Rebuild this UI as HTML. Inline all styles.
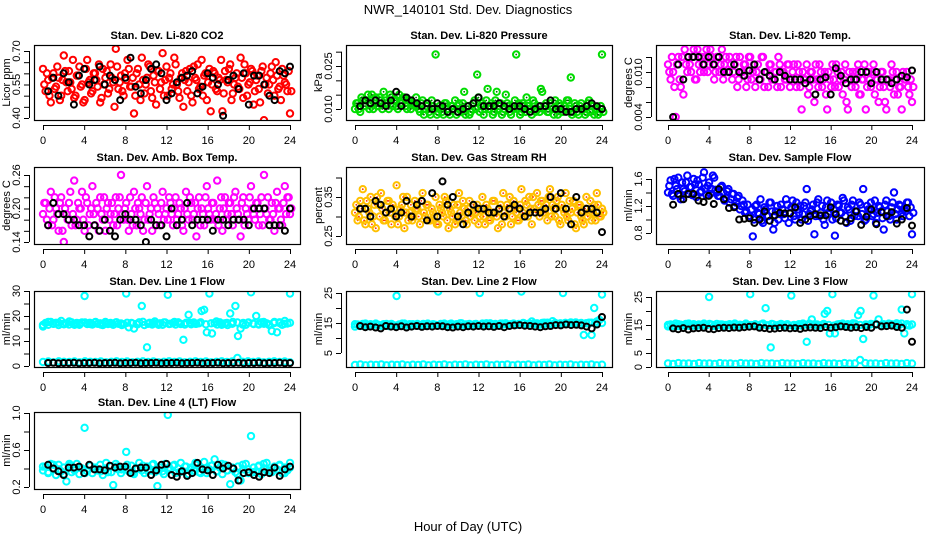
<!DOCTYPE html>
<html><head><meta charset="utf-8"><style>
body{margin:0;background:#fff;}
svg{display:block;font-family:"Liberation Sans",Arial,sans-serif;}
</style></head><body>
<svg id="chart" width="936" height="540" viewBox="0 0 936 540" xmlns="http://www.w3.org/2000/svg">
<text x="468" y="14" text-anchor="middle" font-size="13">NWR_140101  Std. Dev. Diagnostics</text>
<text x="468" y="531" text-anchor="middle" font-size="13">Hour of Day (UTC)</text>
</svg>
<script>
const xTicks = [0,4,8,12,16,20,24];
const co2Color = [0.62,0.52,0.57,0.47,0.60,0.54,0.58,0.50,0.68,0.56,0.61,0.53,0.49,0.59,0.63,0.55,0.48,0.66,0.57,0.52,0.60,0.54,0.47,0.62,0.58,0.51,0.64,0.56,0.71,0.53,0.59,0.50,0.57,0.62,0.54,0.42,0.60,0.55,0.67,0.51,0.58,0.63,0.49,0.56,0.61,0.53,0.69,0.57,0.50,0.60,0.55,0.64,0.52,0.58,0.45,0.61,0.56,0.50,0.63,0.57,0.53,0.66,0.59,0.48,0.62,0.55,0.60,0.52,0.57,0.43,0.61,0.56,0.64,0.51,0.58,0.54,0.67,0.49,0.60,0.55,0.62,0.46,0.57,0.53,0.61,0.39,0.58,0.55,0.63,0.50,0.59,0.54,0.62,0.56,0.52,0.42];
const co2Color2 = [0.55,0.60,0.50,0.58,0.53,0.63,0.48,0.57,0.61,0.52,0.56,0.66,0.50,0.59,0.54,0.47,0.62,0.56,0.51,0.60,0.57,0.64,0.49,0.55,0.61,0.53,0.58,0.45,0.63,0.56,0.52,0.60,0.66,0.54,0.58,0.50,0.62,0.48,0.57,0.55,0.64,0.52,0.59,0.46,0.61,0.56,0.50,0.63,0.58,0.53,0.67,0.55,0.49,0.60,0.57,0.52,0.62,0.47,0.58,0.64,0.54,0.50,0.60,0.56,0.43,0.61,0.53,0.58,0.66,0.51,0.57,0.62,0.48,0.55,0.60,0.53,0.58,0.64,0.50,0.56,0.61,0.52,0.59,0.47,0.63,0.55,0.51,0.60,0.57,0.65,0.53,0.48,0.59,0.55,0.61,0.52];
const co2Black = [0.52,0.58,0.50,0.60,0.56,0.46,0.59,0.62,0.55,0.57,0.63,0.55,0.59,0.57,0.48,0.58,0.67,0.54,0.51,0.57,0.62,0.64,0.60,0.48,0.51,0.56,0.58,0.59,0.61,0.51,0.54,0.60,0.58,0.55,0.41,0.57,0.59,0.53,0.60,0.46,0.59,0.59,0.55,0.50,0.48,0.61,0.60,0.63];
const presColor = [0.010,0.012,0.009,0.013,0.011,0.015,0.012,0.010,0.014,0.011,0.013,0.016,0.012,0.010,0.014,0.013,0.011,0.015,0.012,0.014,0.010,0.013,0.012,0.011,0.011,0.009,0.013,0.010,0.012,0.008,0.011,0.029,0.009,0.010,0.008,0.012,0.009,0.011,0.010,0.008,0.012,0.009,0.016,0.011,0.008,0.010,0.013,0.022,0.009,0.012,0.010,0.017,0.011,0.008,0.013,0.010,0.012,0.009,0.015,0.011,0.008,0.010,0.029,0.012,0.009,0.011,0.014,0.010,0.008,0.012,0.010,0.009,0.016,0.011,0.009,0.012,0.010,0.013,0.008,0.011,0.009,0.010,0.013,0.021,0.009,0.011,0.008,0.012,0.010,0.009,0.013,0.011,0.008,0.010,0.009,0.029];
const presColor2 = [0.012,0.010,0.014,0.011,0.013,0.010,0.015,0.012,0.011,0.014,0.010,0.013,0.012,0.015,0.011,0.013,0.010,0.012,0.014,0.011,0.013,0.010,0.012,0.014,0.010,0.012,0.008,0.011,0.009,0.013,0.010,0.008,0.011,0.009,0.012,0.010,0.008,0.011,0.013,0.009,0.010,0.012,0.008,0.011,0.009,0.012,0.010,0.014,0.011,0.008,0.013,0.010,0.012,0.009,0.016,0.011,0.008,0.010,0.012,0.009,0.011,0.013,0.010,0.008,0.012,0.009,0.011,0.010,0.013,0.009,0.011,0.017,0.010,0.012,0.009,0.011,0.008,0.010,0.012,0.009,0.011,0.013,0.010,0.008,0.012,0.009,0.011,0.010,0.008,0.012,0.009,0.011,0.010,0.008,0.011,0.009];
const presBlack = [0.011,0.013,0.012,0.013,0.012,0.011,0.013,0.016,0.011,0.014,0.013,0.012,0.011,0.012,0.010,0.012,0.011,0.009,0.010,0.009,0.010,0.011,0.012,0.014,0.011,0.011,0.011,0.012,0.011,0.010,0.011,0.011,0.010,0.009,0.010,0.011,0.011,0.013,0.010,0.010,0.009,0.009,0.010,0.010,0.011,0.012,0.011,0.010];
const tempColor = [0.011,0.009,0.010,0.004,0.012,0.008,0.007,0.011,0.012,0.010,0.013,0.009,0.011,0.012,0.010,0.013,0.011,0.012,0.009,0.012,0.010,0.013,0.011,0.010,0.012,0.009,0.011,0.008,0.012,0.010,0.011,0.009,0.012,0.010,0.008,0.011,0.009,0.012,0.010,0.008,0.011,0.009,0.010,0.012,0.008,0.010,0.009,0.011,0.009,0.011,0.008,0.010,0.005,0.009,0.011,0.008,0.010,0.006,0.009,0.011,0.008,0.010,0.005,0.009,0.011,0.008,0.010,0.009,0.007,0.011,0.005,0.009,0.010,0.008,0.011,0.007,0.009,0.005,0.010,0.008,0.011,0.009,0.006,0.010,0.008,0.005,0.009,0.011,0.007,0.010,0.008,0.005,0.009,0.010,0.007,0.006];
const tempColor2 = [0.010,0.012,0.008,0.011,0.009,0.012,0.013,0.010,0.011,0.012,0.009,0.013,0.010,0.011,0.012,0.010,0.013,0.011,0.010,0.012,0.011,0.009,0.012,0.010,0.011,0.010,0.012,0.009,0.010,0.011,0.008,0.012,0.009,0.011,0.010,0.009,0.012,0.008,0.010,0.011,0.009,0.010,0.008,0.011,0.010,0.009,0.011,0.008,0.010,0.009,0.011,0.008,0.010,0.009,0.007,0.010,0.009,0.011,0.008,0.010,0.009,0.007,0.010,0.008,0.009,0.011,0.008,0.010,0.009,0.006,0.010,0.008,0.009,0.010,0.007,0.009,0.011,0.008,0.009,0.010,0.007,0.009,0.008,0.010,0.006,0.009,0.008,0.010,0.009,0.007,0.008,0.010,0.009,0.008,0.009,0.008];
const tempBlack = [0.0040,0.011,0.009,0.012,0.012,0.012,0.011,0.012,0.011,0.012,0.010,0.010,0.011,0.010,0.0095,0.0102,0.011,0.009,0.010,0.0095,0.009,0.010,0.0095,0.009,0.009,0.009,0.0085,0.009,0.007,0.009,0.0093,0.007,0.0105,0.0095,0.0085,0.009,0.009,0.010,0.010,0.0085,0.010,0.009,0.009,0.0085,0.009,0.0095,0.0093,0.0102];
const ambColor = [0.19,0.21,0.17,0.23,0.18,0.20,0.16,0.22,0.14,0.19,0.21,0.17,0.25,0.18,0.20,0.23,0.16,0.21,0.19,0.24,0.17,0.20,0.22,0.18,0.16,0.21,0.19,0.17,0.22,0.20,0.26,0.18,0.21,0.16,0.19,0.23,0.17,0.20,0.22,0.18,0.24,0.19,0.16,0.21,0.20,0.17,0.23,0.19,0.18,0.21,0.17,0.22,0.19,0.20,0.16,0.23,0.18,0.21,0.19,0.15,0.22,0.20,0.17,0.24,0.19,0.21,0.18,0.25,0.20,0.16,0.22,0.19,0.21,0.17,0.23,0.19,0.15,0.22,0.20,0.18,0.24,0.19,0.21,0.17,0.22,0.26,0.19,0.18,0.21,0.16,0.23,0.20,0.17,0.24,0.22,0.19];
const ambColor2 = [0.21,0.18,0.20,0.17,0.22,0.19,0.21,0.16,0.20,0.18,0.23,0.19,0.17,0.21,0.20,0.18,0.22,0.17,0.20,0.19,0.21,0.16,0.19,0.22,0.20,0.18,0.21,0.19,0.17,0.22,0.19,0.20,0.18,0.22,0.17,0.20,0.21,0.19,0.16,0.21,0.18,0.20,0.22,0.17,0.19,0.21,0.18,0.20,0.22,0.19,0.20,0.18,0.21,0.17,0.20,0.19,0.22,0.18,0.21,0.20,0.17,0.19,0.22,0.20,0.18,0.21,0.19,0.17,0.22,0.20,0.18,0.21,0.19,0.22,0.20,0.18,0.21,0.17,0.19,0.22,0.20,0.18,0.21,0.19,0.17,0.20,0.22,0.18,0.19,0.21,0.20,0.18,0.21,0.19,0.22,0.20];
const ambBlack = [0.17,0.21,0.19,0.19,0.18,0.18,0.17,0.17,0.15,0.17,0.16,0.18,0.16,0.15,0.18,0.19,0.18,0.18,0.17,0.14,0.18,0.17,0.17,0.15,0.20,0.17,0.18,0.21,0.17,0.18,0.18,0.18,0.16,0.18,0.18,0.17,0.18,0.18,0.18,0.17,0.20,0.20,0.20,0.17,0.17,0.17,0.16,0.20];
const rhColor = [0.31,0.29,0.34,0.37,0.28,0.32,0.35,0.30,0.27,0.33,0.36,0.29,0.31,0.34,0.28,0.32,0.38,0.30,0.33,0.27,0.35,0.31,0.29,0.34,0.32,0.28,0.36,0.30,0.33,0.29,0.31,0.35,0.28,0.32,0.30,0.34,0.27,0.31,0.33,0.29,0.36,0.30,0.32,0.28,0.34,0.31,0.29,0.33,0.30,0.35,0.28,0.32,0.29,0.34,0.31,0.27,0.33,0.36,0.30,0.32,0.28,0.34,0.31,0.29,0.37,0.30,0.33,0.35,0.28,0.32,0.36,0.30,0.34,0.31,0.29,0.37,0.33,0.30,0.35,0.28,0.32,0.36,0.29,0.31,0.34,0.27,0.33,0.30,0.28,0.35,0.31,0.29,0.33,0.36,0.30,0.32];
const rhColor2 = [0.33,0.30,0.32,0.29,0.34,0.31,0.28,0.33,0.35,0.30,0.32,0.29,0.34,0.31,0.33,0.30,0.28,0.32,0.35,0.31,0.29,0.33,0.30,0.32,0.30,0.34,0.31,0.33,0.29,0.32,0.30,0.28,0.33,0.31,0.35,0.29,0.32,0.30,0.28,0.33,0.31,0.34,0.29,0.32,0.30,0.33,0.31,0.28,0.32,0.30,0.33,0.29,0.31,0.34,0.30,0.32,0.28,0.31,0.33,0.35,0.30,0.32,0.29,0.33,0.31,0.34,0.30,0.32,0.35,0.31,0.33,0.34,0.31,0.33,0.35,0.30,0.32,0.34,0.29,0.33,0.31,0.30,0.34,0.32,0.28,0.31,0.33,0.29,0.32,0.30,0.34,0.31,0.29,0.33,0.30,0.31];
const rhBlack = [0.32,0.32,0.30,0.34,0.33,0.31,0.32,0.30,0.31,0.34,0.30,0.33,0.34,0.29,0.36,0.30,0.39,0.33,0.35,0.30,0.28,0.31,0.33,0.32,0.32,0.31,0.31,0.32,0.30,0.32,0.33,0.32,0.30,0.31,0.31,0.31,0.32,0.35,0.32,0.36,0.32,0.28,0.35,0.31,0.32,0.32,0.31,0.26];
const flowColor = [1.40,1.58,1.35,1.50,1.62,1.30,1.45,1.55,1.38,1.48,1.60,1.33,1.52,1.42,1.70,1.36,1.55,1.45,1.62,1.40,1.35,1.50,1.28,1.42,1.25,1.38,1.20,1.32,1.15,1.28,1.10,1.22,1.05,0.75,1.20,1.10,1.30,0.95,1.15,1.05,1.25,0.85,1.12,1.00,1.22,1.08,1.30,0.95,1.18,1.05,1.25,1.10,1.00,1.20,1.45,1.08,1.15,0.78,1.25,1.05,1.20,0.92,1.28,1.12,1.00,0.76,1.22,1.10,1.32,1.05,1.18,0.98,1.28,1.12,1.05,1.22,1.45,1.00,1.15,1.25,1.08,0.95,1.20,1.12,0.85,1.28,1.05,1.18,1.40,1.00,1.22,1.10,1.15,1.25,1.05,0.78];
const flowColor2 = [1.50,1.38,1.60,1.45,1.35,1.55,1.42,1.65,1.48,1.36,1.52,1.58,1.40,1.62,1.46,1.50,1.38,1.65,1.44,1.35,1.48,1.40,1.32,1.45,1.30,1.38,1.25,1.35,1.20,1.22,1.12,1.05,1.15,1.00,1.22,1.08,0.98,1.18,1.05,1.25,1.12,0.95,1.20,1.08,1.15,1.02,1.22,1.10,1.28,1.00,1.15,1.20,1.08,1.25,0.98,1.12,1.22,1.05,1.30,1.10,1.00,1.18,1.08,1.25,1.15,1.02,1.20,1.10,1.28,0.95,1.15,1.22,1.05,1.12,1.25,1.08,0.98,1.20,1.15,1.05,1.28,1.10,1.18,1.02,1.22,1.12,1.00,1.25,1.08,1.15,1.20,1.05,1.12,1.25,1.18,1.10];
const flowBlack = [1.22,1.38,1.30,1.38,1.38,1.28,1.26,1.35,1.23,1.45,1.30,1.17,1.18,1.00,1.01,1.02,0.95,1.00,1.12,0.98,1.06,1.10,1.09,1.09,1.18,0.95,1.00,1.05,1.08,1.06,1.06,1.18,1.08,0.98,0.96,1.02,1.12,0.92,1.04,1.15,0.93,1.11,1.05,1.11,0.94,1.00,1.17,0.91];
const line1High = [15.8,17.2,16.5,17.6,16.9,17.3,16.4,18.0,16.8,17.1,16.6,17.5,16.9,17.2,16.5,17.4,28.0,16.8,17.3,16.6,17.5,16.9,17.1,16.4,17.6,16.8,17.2,16.5,17.4,16.9,17.0,16.7,29.0,15.5,17.2,15.0,16.8,17.5,24.0,16.4,7.5,17.3,16.6,17.8,16.9,17.1,16.5,17.4,28.5,16.9,17.2,16.6,17.5,16.8,10.5,17.3,20.5,16.7,17.4,16.9,17.1,22.0,22.5,13.5,29.0,13.0,17.2,16.6,17.5,16.9,17.1,16.4,21.0,17.6,24.0,12.0,15.0,17.2,16.5,17.4,29.5,16.8,20.0,16.6,17.5,16.9,17.1,16.4,14.0,17.6,13.5,17.2,16.5,18.0,17.0,29.0];
const line1Band = [16.4,17.6,16.9,17.3,16.7,17.8,16.5,17.1,17.4,16.8,17.6,16.6,17.2,16.9,17.5,16.4,17.3,17.0,16.7,17.7,16.9,17.2,16.5,17.4,16.8,17.6,17.0,16.6,17.3,16.9,17.5,16.7,17.1,17.8,16.5,17.2,16.9,17.4,16.6,17.3,17.0,16.8,17.6,16.7,17.2,17.5,16.9,17.3];
const line1Low = [1.6,1.8,1.5,1.9,1.7,1.6,1.8,1.5,1.9,1.7,1.6,1.8,1.5,1.7,1.9,1.6,1.8,1.5,1.7,1.9,1.6,1.8,1.5,1.7,1.9,1.6,1.8,1.5,1.7,1.9,1.6,1.8,1.5,1.7,1.9,1.6,1.8,3.2,1.7,1.9,1.6,1.8,1.5,1.7,1.9,1.6,1.8,1.5];
const line1Black = [1.2,1.3,1.1,1.2,1.2,1.3,1.1,1.2,1.2,1.3,1.1,1.2,1.2,1.3,1.1,1.2,1.2,1.3,1.1,1.2,1.2,1.3,1.1,1.2,1.2,1.3,1.1,1.2,1.2,1.3,1.1,1.2,1.2,1.3,1.1,1.2,1.2,1.3,1.1,1.2,1.2,1.3,1.1,1.2,1.2,1.3,1.1,1.2];
const line2High = [13.8,14.5,14.1,14.7,14.3,14.0,14.6,14.2,14.8,14.4,14.1,14.6,14.3,14.0,14.7,14.2,24.0,14.5,14.1,14.8,14.3,14.6,14.0,14.4,14.7,14.2,14.5,14.1,14.8,14.3,14.6,14.4,25.5,14.7,14.2,14.5,14.1,14.8,14.4,14.6,14.2,14.9,14.3,14.5,14.7,14.1,14.6,14.4,25.0,14.8,14.3,14.6,14.9,14.4,14.7,14.2,14.8,14.5,14.9,14.3,14.6,14.8,14.4,14.7,25.5,14.9,14.5,14.8,15.5,14.6,14.9,14.4,15.0,14.7,15.1,14.5,15.6,15.0,14.6,14.9,25.0,15.0,14.7,15.2,14.8,15.1,14.6,15.0,11.0,14.9,15.1,11.0,20.0,15.5,16.0,24.5];
const line2Band = [14.6,14.0,14.8,14.3,14.5,14.1,14.7,14.4,14.2,14.8,14.3,14.6,14.1,14.7,14.4,14.5,14.2,14.8,14.6,14.3,14.9,14.5,14.2,14.7,14.4,14.9,14.6,14.3,14.8,14.5,14.7,14.4,15.0,14.6,14.8,14.5,15.1,14.7,14.9,14.6,15.0,14.8,15.2,14.7,14.9,15.1,14.8,15.0];
const line2Low = [1.0,1.2,0.9,1.1,1.0,1.2,0.9,1.1,1.0,1.2,0.9,1.1,1.0,1.2,0.9,1.1,1.0,1.2,0.9,1.1,1.0,1.2,0.9,1.1,1.0,1.2,0.9,1.1,1.0,1.2,0.9,1.1,1.0,1.2,0.9,1.1,1.0,1.2,0.9,1.1,1.0,1.2,0.9,1.1,1.0,1.2,0.9,1.1];
const line2Black = [14.0,13.6,13.8,13.5,13.2,14.0,13.8,13.6,13.9,13.5,13.8,14.0,13.7,13.9,13.8,14.0,13.9,13.6,13.5,13.8,13.6,13.9,13.8,14.0,13.8,13.9,13.7,14.0,13.6,14.0,14.2,14.3,14.1,14.0,13.8,13.6,13.9,14.0,14.3,14.2,14.5,14.3,14.4,14.2,13.8,13.2,14.5,17.0];
const line3High = [14.5,15.2,14.8,15.5,14.6,15.1,14.9,15.4,14.7,15.0,15.3,14.6,15.2,14.8,15.5,14.9,25.0,15.1,14.7,15.4,14.9,15.2,14.6,15.0,15.3,14.8,15.5,14.7,15.1,14.9,15.2,15.0,26.0,14.8,15.3,14.6,15.1,15.5,21.0,14.9,7.0,15.2,14.8,15.0,15.4,14.7,15.1,14.9,25.5,15.0,14.6,15.3,14.8,15.1,9.0,15.5,17.0,14.9,15.2,14.7,15.0,19.0,20.0,12.0,26.0,12.0,15.2,14.8,15.5,15.0,15.3,14.9,15.6,15.1,18.5,20.0,10.0,15.2,14.9,15.4,25.5,15.1,17.0,14.8,15.3,15.0,15.5,14.9,15.2,15.6,15.0,20.5,12.0,15.3,14.8,26.0];
const line3Band = [15.0,14.6,15.3,14.8,15.5,14.7,15.1,14.9,15.4,14.6,15.2,15.0,14.8,15.3,14.7,15.5,15.0,14.8,15.2,14.9,15.4,14.7,15.1,15.3,14.8,15.0,15.5,14.9,15.2,14.7,15.4,15.0,14.8,15.3,15.1,14.9,15.5,15.0,14.8,15.2,15.4,14.9,15.1,15.3,14.8,15.5,15.0,15.2];
const line3Low = [1.3,1.1,1.4,1.2,1.3,1.1,1.4,1.2,1.3,1.1,1.4,1.2,1.3,1.1,1.4,1.2,1.3,1.1,1.4,1.2,1.3,1.1,1.4,1.2,1.3,1.1,1.4,1.2,1.3,1.1,1.4,1.2,1.3,1.1,1.4,1.2,1.3,2.5,1.4,1.2,1.3,1.1,1.4,1.2,1.3,1.1,1.4,1.2];
const line3Black = [13.8,13.5,13.9,13.4,13.8,13.9,14.0,13.6,13.5,13.9,14.0,13.9,14.1,14.0,14.2,14.4,14.5,14.0,13.9,13.6,13.7,13.9,14.0,13.8,13.9,13.6,14.0,14.1,14.0,13.9,14.3,14.0,14.2,14.5,14.3,14.0,14.2,13.9,14.3,14.0,15.2,14.5,14.6,14.8,14.3,14.0,20.5,9.0];
const line4Color = [0.38,0.42,0.35,0.45,0.40,0.33,0.44,0.37,0.41,0.26,0.43,0.36,0.39,0.45,0.34,0.40,0.84,0.37,0.43,0.35,0.41,0.38,0.44,0.33,0.40,0.36,0.42,0.22,0.45,0.39,0.35,0.41,0.58,0.37,0.43,0.34,0.40,0.46,0.38,0.35,0.42,0.39,0.44,0.36,0.21,0.41,0.37,0.45,0.98,0.39,0.43,0.35,0.40,0.46,0.37,0.42,0.34,0.41,0.38,0.44,0.36,0.40,0.47,0.35,0.39,0.43,0.50,0.37,0.41,0.34,0.44,0.38,0.23,0.40,0.36,0.42,0.27,0.39,0.45,0.35,0.75,0.41,0.37,0.43,0.34,0.40,0.46,0.38,0.36,0.42,0.39,0.44,0.35,0.41,0.38,0.46];
const line4Band = [0.42,0.36,0.44,0.39,0.34,0.45,0.38,0.41,0.35,0.43,0.40,0.37,0.46,0.36,0.42,0.39,0.44,0.35,0.40,0.43,0.37,0.45,0.38,0.34,0.41,0.44,0.36,0.42,0.39,0.46,0.35,0.40,0.43,0.37,0.45,0.38,0.41,0.34,0.44,0.39,0.36,0.42,0.45,0.37,0.40,0.43,0.35,0.41];
const line4Black = [0.44,0.40,0.37,0.33,0.41,0.41,0.42,0.35,0.44,0.39,0.39,0.38,0.43,0.41,0.42,0.42,0.35,0.40,0.41,0.41,0.33,0.38,0.44,0.45,0.33,0.31,0.37,0.32,0.35,0.46,0.39,0.38,0.33,0.44,0.40,0.43,0.40,0.27,0.35,0.36,0.33,0.31,0.36,0.35,0.41,0.32,0.39,0.42];

const NS = "http://www.w3.org/2000/svg";
const svg = document.getElementById('chart');
function mk(tag, attrs, parent){const e=document.createElementNS(NS,tag);for(const k in attrs)e.setAttribute(k,attrs[k]);(parent||svg).appendChild(e);return e;}

const cols=[{l:34,r:300,x0:43,x24:290},{l:346,r:612,x0:355,x24:602},{l:656,r:924,x0:668,x24:912}];
const rows=[{t:45,b:120},{t:167,b:244},{t:291,b:367},{t:412,b:489}];

const panels=[
 {name:'co2',title:'Stan. Dev. Li-820 CO2',yl:'Licor ppm',c:0,r:0,v1:0.40,p1:118,v2:0.70,p2:51,ticks:[0.40,0.45,0.50,0.55,0.60,0.65,0.70],labels:[0.40,0.55,0.70],dec:2,series:[[co2Color,'#ff0000',null],[co2Color2,'#ff0000',null]],black:co2Black},
 {name:'pressure',title:'Stan. Dev. Li-820 Pressure',yl:'kPa',c:1,r:0,v1:0.010,p1:109,v2:0.025,p2:66,ticks:[0.010,0.015,0.020,0.025,0.030],labels:[0.010,0.025],dec:3,series:[[presColor,'#00dd00','#006600'],[presColor2,'#00dd00','#006600']],black:presBlack},
 {name:'temp',title:'Stan. Dev. Li-820 Temp.',yl:'degrees C',c:2,r:0,v1:0.004,p1:117,v2:0.010,p2:72,ticks:[0.004,0.006,0.008,0.010,0.012],labels:[0.004,0.010],dec:3,series:[[tempColor,'#ff00ff',null],[tempColor2,'#ff00ff',null]],black:tempBlack},
 {name:'amb-temp',title:'Stan. Dev. Amb. Box Temp.',yl:'degrees C',c:0,r:1,v1:0.14,p1:242,v2:0.26,p2:175,ticks:[0.14,0.16,0.18,0.20,0.22,0.24,0.26],labels:[0.14,0.20,0.26],dec:2,series:[[ambColor,'#ff00ff',null],[ambColor2,'#ff00ff',null]],black:ambBlack},
 {name:'rh',title:'Stan. Dev. Gas Stream RH',yl:'percent',c:1,r:1,v1:0.25,p1:236,v2:0.35,p2:197,ticks:[0.25,0.30,0.35,0.40],labels:[0.25,0.35],dec:2,series:[[rhColor,'#ffc000','#ff3300'],[rhColor2,'#ffc000','#ff3300']],black:rhBlack},
 {name:'sample-flow',title:'Stan. Dev. Sample Flow',yl:'ml/min',c:2,r:1,v1:0.8,p1:233,v2:1.6,p2:179,ticks:[0.8,1.0,1.2,1.4,1.6],labels:[0.8,1.2,1.6],dec:1,series:[[flowColor,'#0000ff',null],[flowColor2,'#0000ff',null]],black:flowBlack},
 {name:'line1',title:'Stan. Dev. Line 1 Flow',yl:'ml/min',c:0,r:2,v1:0,p1:366,v2:30,p2:291,ticks:[0,5,10,15,20,25,30],labels:[0,10,20,30],dec:0,series:[[line1High,'#00ffff',null],[line1Band,'#00ffff',null],[line1Low,'#00ffff',null]],black:line1Black},
 {name:'line2',title:'Stan. Dev. Line 2 Flow',yl:'ml/min',c:1,r:2,v1:5,p1:353,v2:25,p2:293,ticks:[5,10,15,20,25],labels:[5,15,25],dec:0,series:[[line2High,'#00ffff',null],[line2Band,'#00ffff',null],[line2Low,'#00ffff',null]],black:line2Black},
 {name:'line3',title:'Stan. Dev. Line 3 Flow',yl:'ml/min',c:2,r:2,v1:0,p1:367,v2:25,p2:297,ticks:[0,5,10,15,20,25],labels:[0,5,15,25],dec:0,series:[[line3High,'#00ffff',null],[line3Band,'#00ffff',null],[line3Low,'#00ffff',null]],black:line3Black},
 {name:'line4',title:'Stan. Dev. Line 4 (LT) Flow',yl:'ml/min',c:0,r:3,v1:0.2,p1:487,v2:1.0,p2:413,ticks:[0.2,0.4,0.6,0.8,1.0],labels:[0.2,0.6,1.0],dec:1,series:[[line4Color,'#00ffff',null],[line4Band,'#00ffff',null]],black:line4Black}
];

panels.forEach(p=>{
 const C=cols[p.c],R=rows[p.r];
 const g=mk('g',{});
 
 
 const xs=h=>C.x0+(C.x24-C.x0)*h/24;
 const ys=v=>p.p1+(p.p2-p.p1)*(v-p.v1)/(p.v2-p.v1);
 const clip='clip-'+p.name;
 const cp=mk('clipPath',{id:clip},g);mk('rect',{x:C.l,y:R.t,width:C.r-C.l,height:R.b-R.t},cp);
 const dg=mk('g',{'clip-path':'url(#'+clip+')'},g);
 p.series.forEach((s,si)=>{
  const arr=s[0],n=arr.length;
  const off=si===1&&n===96?12/95:0;
  arr.forEach((v,i)=>{
   const h=n>1?i*24/(n-1)+off:0;
   const cx=xs(h),cy=ys(v);
   const c=mk('circle',{cx:cx.toFixed(1),cy:cy.toFixed(1),r:3.2,fill:'none',stroke:s[1],'stroke-width':2},dg);
   
   
   if(s[2]) mk('circle',{cx:cx.toFixed(1),cy:cy.toFixed(1),r:0.9,fill:s[2]},dg);
  });
 });
 p.black.forEach((v,i)=>{
  const h=0.5+i*0.5;
  const c=mk('circle',{cx:xs(h).toFixed(1),cy:ys(v).toFixed(1),r:3,fill:'none',stroke:'#000','stroke-width':2},dg);
  
  
 });
 const box=mk('rect',{x:C.l+0.5,y:R.t+0.5,width:C.r-C.l,height:R.b-R.t,fill:'none',stroke:'#000','stroke-width':1.2},g);
 
 
 const t=mk('text',{x:(C.l+C.r)/2,y:R.t-6,'text-anchor':'middle','font-size':11,'font-weight':'bold'},g);
 t.textContent=p.title;
 
 
 const bx=R.b+5;
 mk('line',{x1:xs(0),x2:xs(24),y1:bx+0.5,y2:bx+0.5,stroke:'#000'},g);
 xTicks.forEach(h=>{
  mk('line',{x1:xs(h)+0.5,x2:xs(h)+0.5,y1:bx,y2:bx+5,stroke:'#000'},g);
  const tl=mk('text',{x:xs(h),y:bx+19,'text-anchor':'middle','font-size':11},g);
  tl.textContent=h;
  
  
 });
 const ax=C.l-5;
 const yt=p.ticks.filter(v=>ys(v)>=R.t-2&&ys(v)<=R.b+3);
 mk('line',{x1:ax+0.5,x2:ax+0.5,y1:ys(yt[0]),y2:ys(yt[yt.length-1]),stroke:'#000'},g);
 yt.forEach(v=>mk('line',{x1:ax-5,x2:ax,y1:ys(v)+0.5,y2:ys(v)+0.5,stroke:'#000'},g));
 p.labels.forEach(v=>{
  const y=ys(v);
  const tl=mk('text',{x:0,y:0,'text-anchor':'middle','font-size':11,transform:`translate(${ax-9},${y}) rotate(-90)`},g);
  tl.textContent=v.toFixed(p.dec);
  
  
 });
 const yl=mk('text',{x:0,y:0,'text-anchor':'middle','font-size':11,transform:`translate(${C.l-24},${(R.t+R.b)/2}) rotate(-90)`},g);
 yl.textContent=p.yl;
 
 
});
</script>
</body></html>
